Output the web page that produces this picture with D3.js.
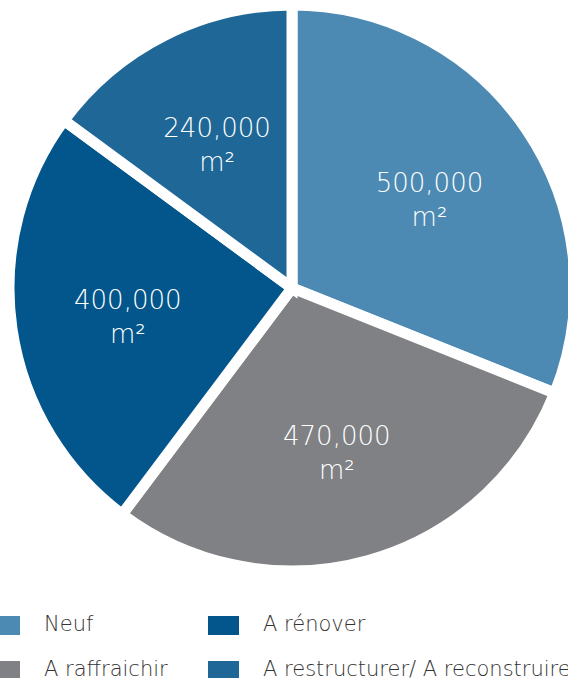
<!DOCTYPE html>
<html><head><meta charset="utf-8">
<script src="https://cdn.jsdelivr.net/npm/d3@7"></script>
<style>body{margin:0;background:#fff}svg{display:block}</style>
</head><body>
<script>
const categories = ["Neuf", "A raffraichir", "A rénover", "A restructurer/ A reconstruire"];
const values = [500000, 470000, 400000, 240000];
const labels = ["500,000", "470,000", "400,000", "240,000"];
const unit = "m²";
const colors = ["#4d8ab3", "#808184", "#02568b", "#1e6796"];

const W = 568, H = 678;
const svg = d3.select("body").append("svg").attr("width", W).attr("height", H);
const cx = 292, cy = 288, R = 283;
const font = "'DejaVu Sans', sans-serif";

const pie = d3.pie().sort(null).value(d => d)(values);
const arc = d3.arc().innerRadius(0).outerRadius(R);
const labelArc = d3.arc().innerRadius(166).outerRadius(166);

const g = svg.append("g").attr("transform", `translate(${cx},${cy})`);
g.selectAll("path").data(pie).join("path")
  .attr("d", arc)
  .attr("fill", (d, i) => colors[i])
  .attr("stroke", "#fff").attr("stroke-width", 11).attr("stroke-linejoin", "miter");

const lg = g.selectAll("g.lab").data(pie).join("g").attr("class", "lab")
  .attr("transform", d => { const c = labelArc.centroid(d); return `translate(${c[0]},${c[1]})`; });
lg.append("text").attr("text-anchor", "middle").attr("y", -3)
  .attr("font-family", font).attr("font-weight", 300).attr("font-size", 26).attr("fill", "#fff")
  .text((d, i) => labels[i]);
lg.append("text").attr("text-anchor", "middle").attr("y", 31)
  .attr("font-family", font).attr("font-weight", 300).attr("font-size", 26).attr("fill", "#fff")
  .text(unit);

// legend
const legX = d3.scalePoint().domain([0, 1]).range([-11, 208]);
const legY = d3.scalePoint().domain([0, 1]).range([616, 661]);
const leg = svg.selectAll("g.leg").data(categories).join("g").attr("class", "leg")
  .attr("transform", (d, i) => `translate(${legX(i < 2 ? 0 : 1)},${legY(i % 2)})`);
leg.append("rect").attr("width", 31).attr("height", 19).attr("fill", (d, i) => colors[i]);
leg.append("text").attr("x", 55).attr("y", 15)
  .attr("font-family", font).attr("font-weight", 300).attr("font-size", 21).attr("fill", "#333")
  .text(d => d);
</script>
</body></html>
